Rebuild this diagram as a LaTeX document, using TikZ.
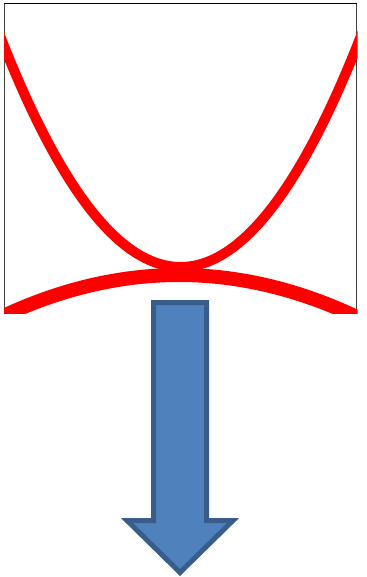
\documentclass[tikz,border=0pt]{standalone}
\definecolor{arrowfill}{HTML}{4F81BD}
\definecolor{arrowline}{HTML}{385D8A}
\begin{document}
\begin{tikzpicture}[x=1pt,y=-1pt,
  frameside/.style={draw=black!75,line width=1},
  frametop/.style={draw=black,line width=1.5},
  redcurve/.style={draw=red,line join=round},
  bigarrow/.style={fill=arrowfill,draw=arrowline,line width=5,line join=miter}]
\useasboundingbox (0,0) rectangle (366,577);
% frame (open at the bottom)
\draw[frameside] (4.8,3) -- (4.8,312);
\draw[frameside] (356.5,3) -- (356.5,313);
\draw[frametop] (4,3.5) -- (357,3.5);
% red curves
\begin{scope}
\clip (4,0) rectangle (357.5,313.5);
\draw[redcurve,line width=10] plot[domain=-10:370,samples=120]
 (\x,{267-0.0071*(\x-180.5)*(\x-180.5)});
\draw[redcurve,line width=14] plot[domain=-10:370,samples=80]
 (\x,{275+0.00132*(\x-179)*(\x-179)});
\end{scope}
% down arrow
\draw[bigarrow] (153.5,302.5) -- (206.5,302.5) -- (206.5,520.5) -- (233,520.5)
 -- (180,572.5) -- (127,520.5) -- (153.5,520.5) -- cycle;
\end{tikzpicture}
\end{document}
